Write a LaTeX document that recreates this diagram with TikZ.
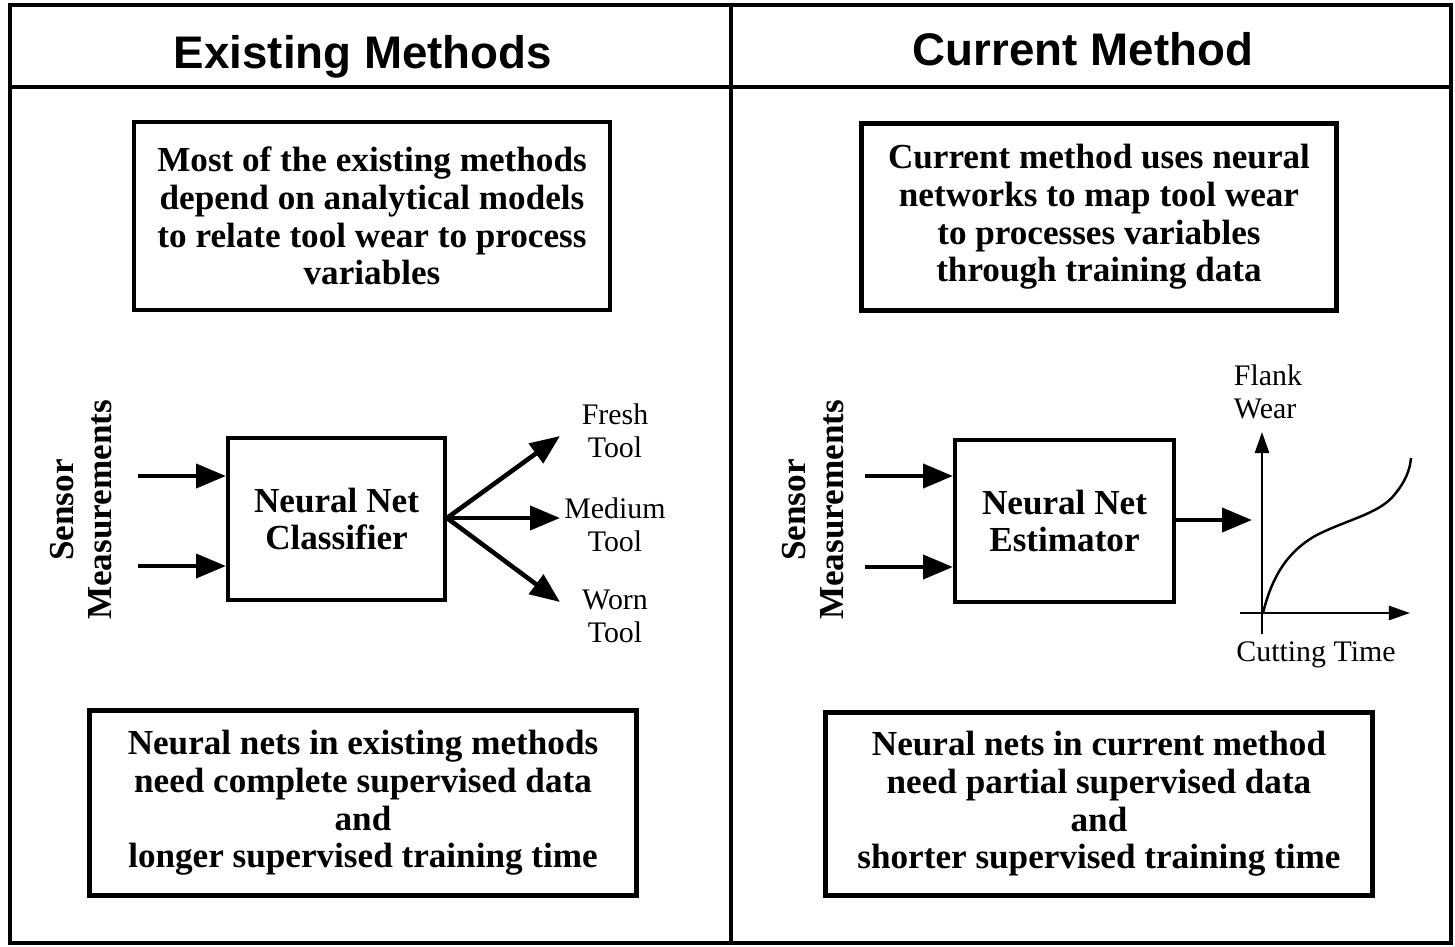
\documentclass[tikz,border=0pt]{standalone}
\usepackage{fontspec}
\setmainfont{Liberation Serif}
\newfontfamily\hdfont{Liberation Sans}
\usetikzlibrary{arrows.meta}
\begin{document}
\begin{tikzpicture}[x=0.02cm,y=-0.02cm,
  frame/.style={line width=1.8pt},
  boxtxt/.style={draw,line width=2.3pt,align=center,inner sep=0pt,
     font=\fontsize{20}{21.5}\selectfont\bfseries},
  hdtxt/.style={anchor=base,font=\hdfont\fontsize{26}{30}\selectfont\bfseries},
  lbl/.style={align=center,font=\fontsize{17}{18.7}\selectfont},
  rot/.style={align=center,rotate=90,font=\fontsize{20}{21.5}\selectfont\bfseries},
  bigarrow/.style={line width=2.6pt,-{Triangle[length=17pt,width=13.5pt]}},
  axis/.style={line width=1.5pt,-{Triangle[length=12pt,width=8pt]}},
]
\useasboundingbox (0,0) rectangle (1455,947);
% frame
\draw[frame] (10,5) rectangle (1451,943);
\draw[frame] (731,5) -- (731,943);
\draw[frame] (10,87) -- (1451,87);
\node[hdtxt] (h1) at (363,68) {Existing Methods};
\node[hdtxt] (h2) at (1083,65) {Current Method};

% top boxes
\node[boxtxt,minimum width=476*0.02cm,minimum height=188*0.02cm] (t1) at (372,216)
 {Most of the existing methods\\depend on analytical models\\to relate tool wear to process\\variables};
\node[boxtxt,minimum width=475*0.02cm,minimum height=187*0.02cm] (t2) at (1099,217)
 {Current method uses neural\\networks to map tool wear\\to processes variables\\through training data};

% bottom boxes
\node[boxtxt,minimum width=547*0.02cm,minimum height=185*0.02cm] (b1) at (363,803)
 {Neural nets in existing methods\\need complete supervised data\\and\\longer supervised training time};
\node[boxtxt,minimum width=547*0.02cm,minimum height=183*0.02cm] (b2) at (1099,804)
 {Neural nets in current method\\need partial supervised data\\and\\shorter supervised training time};

% left diagram
\node[rot] (s1) at (81,510) {Sensor\\Measurements};
\node[boxtxt,minimum width=217*0.02cm,minimum height=162*0.02cm] (c1) at (336.5,519) {Neural Net\\Classifier};
\coordinate (i1a) at (138,476);
\coordinate (i1b) at (138,566);
\draw[bigarrow] (i1a) -- (i1a -| c1.west);
\draw[bigarrow] (i1b) -- (i1b -| c1.west);
\coordinate (o1) at (447,518);
\coordinate (f1) at (560,436);
\coordinate (m1) at (560,518);
\coordinate (w1) at (560,602);
\draw[bigarrow] (o1) -- (f1);
\draw[bigarrow] (o1) -- (m1);
\draw[bigarrow] (o1) -- (w1);
\node[lbl] (fresh) at (615,431) {Fresh\\Tool};
\node[lbl] (medium) at (615,525) {Medium\\Tool};
\node[lbl] (worn) at (615,616) {Worn\\Tool};

% right diagram
\node[rot] (s2) at (813,510) {Sensor\\Measurements};
\node[boxtxt,minimum width=219*0.02cm,minimum height=162*0.02cm] (c2) at (1064.5,521) {Neural Net\\Estimator};
\coordinate (i2a) at (865,476);
\coordinate (i2b) at (865,567);
\draw[bigarrow] (i2a) -- (i2a -| c2.west);
\draw[bigarrow] (i2b) -- (i2b -| c2.west);
\coordinate (out2) at (1252,520);
\draw[bigarrow] (out2 -| c2.east) -- (out2);
\coordinate (vy0) at (1262,634);
\coordinate (vy1) at (1262,432);
\coordinate (hx0) at (1240,613);
\coordinate (hx1) at (1410,613);
\draw[axis] (vy0) -- (vy1);
\draw[axis] (hx0) -- (hx1);
\draw[line width=1.4pt] (1263,613) .. controls (1270,585) and (1282,555) .. (1315,536)
  .. controls (1345,520) and (1380,514) .. (1395,494)
  .. controls (1405,482) and (1410,470) .. (1411,458);
\node[lbl,align=left] (flank) at (1268,392) {Flank\\Wear};
\node[lbl] (cut) at (1316,655) {Cutting Time};
\end{tikzpicture}
\end{document}
